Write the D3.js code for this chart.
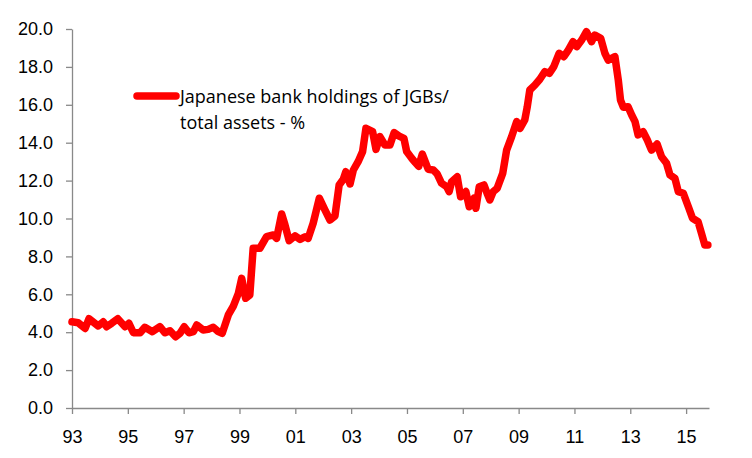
<!DOCTYPE html>
<html>
<head>
<meta charset="utf-8">
<script src="https://cdn.jsdelivr.net/npm/d3@7"></script>
<style>
  body { margin: 0; background: #fff; }
  svg { display: block; font-family: "Open Sans", sans-serif; }
  .axis path, .axis line { stroke: #898989; stroke-width: 1.3; }
  .axis text { font-size: 18px; fill: #000; }
  .legend text { font-size: 18px; fill: #000; }
</style>
</head>
<body>
<svg width="752" height="458"></svg>
<script>
// decimal years and JGB holdings as % of total assets
var years = [
  1993.00, 1993.22, 1993.47, 1993.61, 1993.94, 1994.12, 1994.24, 1994.42, 1994.64, 1994.90,
  1995.04, 1995.20, 1995.44, 1995.61, 1995.88, 1996.15, 1996.33, 1996.51, 1996.71, 1996.87,
  1997.02, 1997.19, 1997.35, 1997.47, 1997.70, 1997.88, 1998.06, 1998.24, 1998.38, 1998.60,
  1998.78, 1998.96, 1999.08, 1999.22, 1999.37, 1999.49, 1999.73, 1999.97, 2000.21, 2000.33,
  2000.51, 2000.63, 2000.78, 2000.99, 2001.17, 2001.35, 2001.46, 2001.64, 2001.86, 2002.06,
  2002.24, 2002.42, 2002.57, 2002.72, 2002.81, 2002.96, 2003.08, 2003.25, 2003.41, 2003.53,
  2003.77, 2003.89, 2004.03, 2004.21, 2004.39, 2004.54, 2004.72, 2004.89, 2004.99, 2005.17,
  2005.30, 2005.42, 2005.55, 2005.76, 2005.94, 2006.08, 2006.24, 2006.42, 2006.51, 2006.60,
  2006.80, 2006.92, 2007.11, 2007.23, 2007.40, 2007.47, 2007.59, 2007.76, 2007.87, 2007.97,
  2008.09, 2008.23, 2008.43, 2008.57, 2008.75, 2008.93, 2009.05, 2009.22, 2009.31, 2009.40,
  2009.58, 2009.76, 2009.94, 2010.10, 2010.26, 2010.45, 2010.62, 2010.78, 2010.95, 2011.08,
  2011.26, 2011.43, 2011.61, 2011.73, 2011.94, 2012.09, 2012.21, 2012.45, 2012.57, 2012.65,
  2012.75, 2012.92, 2013.05, 2013.17, 2013.28, 2013.46, 2013.61, 2013.76, 2013.96, 2014.12,
  2014.30, 2014.42, 2014.60, 2014.72, 2014.90, 2015.08, 2015.23, 2015.43, 2015.55, 2015.67,
  2015.78
];
var jgbShare = [
  4.55, 4.50, 4.20, 4.71, 4.33, 4.55, 4.29, 4.47, 4.71, 4.29,
  4.47, 3.97, 3.97, 4.26, 4.03, 4.29, 3.97, 4.08, 3.76, 3.94,
  4.29, 3.97, 4.03, 4.38, 4.12, 4.15, 4.26, 4.03, 3.94, 4.91,
  5.38, 6.05, 6.84, 5.79, 5.96, 8.43, 8.43, 9.04, 9.13, 8.95,
  10.24, 9.66, 8.83, 9.08, 8.90, 9.04, 8.95, 9.75, 11.07, 10.45,
  9.92, 10.13, 11.77, 12.07, 12.47, 11.82, 12.56, 13.00, 13.53, 14.76,
  14.58, 13.65, 14.32, 13.88, 13.88, 14.53, 14.35, 14.23, 13.53, 13.18,
  12.95, 12.75, 13.40, 12.60, 12.56, 12.35, 11.86, 11.68, 11.42, 11.94,
  12.20, 11.15, 11.42, 10.62, 11.07, 10.54, 11.68, 11.77, 11.33, 10.98,
  11.42, 11.59, 12.38, 13.61, 14.32, 15.11, 14.76, 15.20, 15.90, 16.78,
  17.04, 17.35, 17.75, 17.66, 18.01, 18.72, 18.54, 18.89, 19.33, 19.07,
  19.42, 19.86, 19.33, 19.68, 19.51, 18.72, 18.36, 18.54, 17.31, 16.25,
  15.87, 15.90, 15.46, 15.11, 14.41, 14.58, 14.14, 13.61, 13.93, 13.26,
  12.91, 12.30, 12.12, 11.42, 11.33, 10.62, 10.01, 9.83, 9.22, 8.60,
  8.60
];
var xTicks = [1993, 1995, 1997, 1999, 2001, 2003, 2005, 2007, 2009, 2011, 2013, 2015];
var xEnd = 2015.82;
var yTicks = [0, 2, 4, 6, 8, 10, 12, 14, 16, 18, 20];
var seriesName = ["Japanese bank holdings of JGBs/", "total assets - %"];

var svg = d3.select("svg");

var x = d3.scaleLinear().domain([years[0], xEnd]).range([72, 709]);
var y = d3.scaleLinear().domain([0, 20]).range([408, 29]);

var points = years.map(function(d, i) { return [d, jgbShare[i]]; });

// y axis
svg.append("g")
   .attr("class", "axis")
   .attr("transform", "translate(" + x(years[0]) + ",0)")
   .call(d3.axisLeft(y).tickValues(yTicks).tickSize(6).tickSizeOuter(0).tickPadding(13)
     .tickFormat(d3.format(".1f")));

// x axis
svg.append("g")
   .attr("class", "axis")
   .attr("transform", "translate(0," + y(0) + ")")
   .call(d3.axisBottom(x).tickValues(xTicks).tickSize(6).tickSizeOuter(0).tickPadding(16)
     .tickFormat(function(d) { return String(d).slice(2); }));

var line = d3.line()
  .x(function(d) { return x(d[0]); })
  .y(function(d) { return y(d[1]); });

svg.append("path")
   .datum(points)
   .attr("fill", "none")
   .attr("stroke", "#ff0000")
   .attr("stroke-width", 7.5)
   .attr("stroke-linejoin", "round")
   .attr("stroke-linecap", "round")
   .attr("d", line);

// legend
var lg = svg.append("g").attr("class", "legend");
lg.append("line")
  .attr("x1", 137).attr("x2", 176)
  .attr("y1", 96).attr("y2", 96)
  .attr("stroke", "#ff0000")
  .attr("stroke-width", 7.5)
  .attr("stroke-linecap", "round");
lg.selectAll("text")
  .data(seriesName)
  .enter()
  .append("text")
  .attr("x", 180)
  .attr("y", function(d, i) { return 103 + i * 26; })
  .text(function(d) { return d; });
</script>
</body>
</html>
